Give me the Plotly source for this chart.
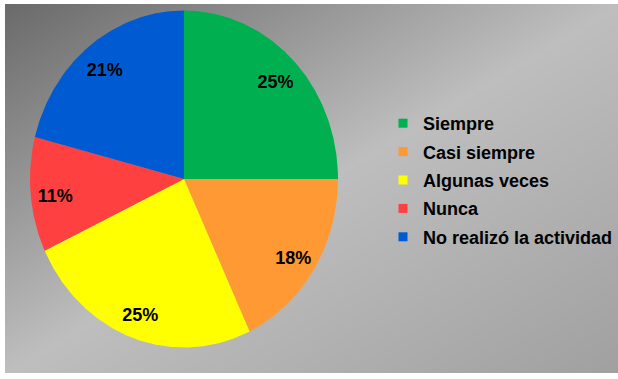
import numpy as np
import plotly.graph_objects as go

# ---- data ----
categories = ["Siempre", "Casi siempre", "Algunas veces", "Nunca", "No realizó la actividad"]
values = [25, 18, 25, 11, 21]
labels = ["25%", "18%", "25%", "11%", "21%"]
colors = ["#00B050", "#FF9933", "#FFFF00", "#FF4040", "#005BD3"]

W, H = 618, 379
ML, MR, MT, MB = 5, 0, 4, 6
# pixel geometry of pie (ellipse) inside the plot area
cx_px, cy_px, rx_px, ry_px = 184, 179, 154, 168.5
x0 = -(cx_px - ML) / rx_px
x1 = (W - MR - cx_px) / rx_px
y1 = (cy_px - MT) / ry_px
y0 = -(H - MB - cy_px) / ry_px

fig = go.Figure()

# background gradient
nx, ny = 120, 80
gx = np.linspace(x0, x1, nx)
gy = np.linspace(y0, y1, ny)
U, V = np.meshgrid((gx - x0) / (x1 - x0), (y1 - gy) / (y1 - y0))
T = U + V
Z = np.interp(T, [0, 1.0, 2.0], [106, 190, 160])
fig.add_trace(go.Heatmap(x=gx, y=gy, z=Z, zmin=0, zmax=255,
                         colorscale=[[0, "rgb(0,0,0)"], [1, "rgb(255,255,255)"]],
                         showscale=False, zsmooth="best", hoverinfo="skip"))

total = float(sum(values))
cum = 0.0
lab_x, lab_y = [], []
for cat, v, col in zip(categories, values, colors):
    a0 = cum / total * 2 * np.pi
    cum += v
    a1 = cum / total * 2 * np.pi
    th = np.linspace(a0, a1, 200)
    xs = np.concatenate([[0], np.sin(th), [0]])
    ys = np.concatenate([[0], np.cos(th), [0]])
    fig.add_trace(go.Scatter(x=xs, y=ys, fill="toself", fillcolor=col, mode="lines",
                             line=dict(width=0, color=col), showlegend=False,
                             hoverinfo="skip"))
    am = (a0 + a1) / 2
    lab_x.append(0.84 * np.sin(am))
    lab_y.append(0.84 * np.cos(am) - 0.028)

fig.add_trace(go.Scatter(x=lab_x, y=lab_y, mode="text", text=labels,
                         textfont=dict(family="Liberation Sans, Arial", size=18, color="black", weight="bold"),
                         showlegend=False, hoverinfo="skip"))

for i, (cat, col) in enumerate(zip(categories, colors)):
    fig.add_trace(go.Scatter(x=[None], y=[None], mode="markers", name=cat,
                             marker=dict(symbol="square", size=9, color=col),
                             legendgroup=f"g{i}"))

fig.update_layout(
    width=W, height=H,
    margin=dict(l=ML, r=MR, t=MT, b=MB, autoexpand=False),
    paper_bgcolor="white", plot_bgcolor="#a0a0a0",
    xaxis=dict(range=[x0, x1], visible=False, fixedrange=True),
    yaxis=dict(range=[y0, y1], visible=False, fixedrange=True),
    showlegend=True,
    legend=dict(x=(383 - ML) / (W - ML - MR), xanchor="left",
                y=(H - MB - 180) / (H - MT - MB), yanchor="middle",
                bgcolor="rgba(0,0,0,0)", tracegroupgap=2,
                font=dict(family="Liberation Sans, Arial", size=18, color="black", weight="bold")),
)

fig.write_html("out.html", config={"displayModeBar": False},
               post_script="document.body.style.margin='0px';document.body.style.overflow='hidden';")
